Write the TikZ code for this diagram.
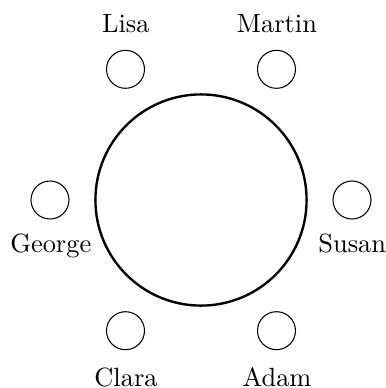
\documentclass[tikz,border=0pt]{standalone}
\begin{document}
\begin{tikzpicture}[x=0.3788pt,y=-0.3788pt,
  seat/.style={circle,draw,line width=0.4pt,minimum size=14.4pt,inner sep=0pt},
  tablebox/.style={circle,draw,line width=0.9pt,minimum size=80pt,inner sep=0pt},
  guestname/.style={anchor=base,inner sep=0pt}]
\useasboundingbox (0,0) rectangle (386,388);
\coordinate (c) at (201,200);
\node[tablebox] (table) at (c) {};
\node[seat] (susan) at (352,200) {};
\node[seat] (martin) at (276.5,69.3) {};
\node[seat] (lisa) at (125.5,69.3) {};
\node[seat] (george) at (50,200) {};
\node[seat] (clara) at (125.5,330.7) {};
\node[seat] (adam) at (276.5,330.7) {};
\node[guestname] (lLisa) at (125.8,32.3) {Lisa};
\node[guestname] (lMartin) at (277,32.3) {Martin};
\node[guestname] (lGeorge) at (50.8,252.3) {George};
\node[guestname] (lSusan) at (352.3,252.3) {Susan};
\node[guestname] (lClara) at (126,386) {Clara};
\node[guestname] (lAdam) at (277,386) {Adam};
\end{tikzpicture}
\end{document}
